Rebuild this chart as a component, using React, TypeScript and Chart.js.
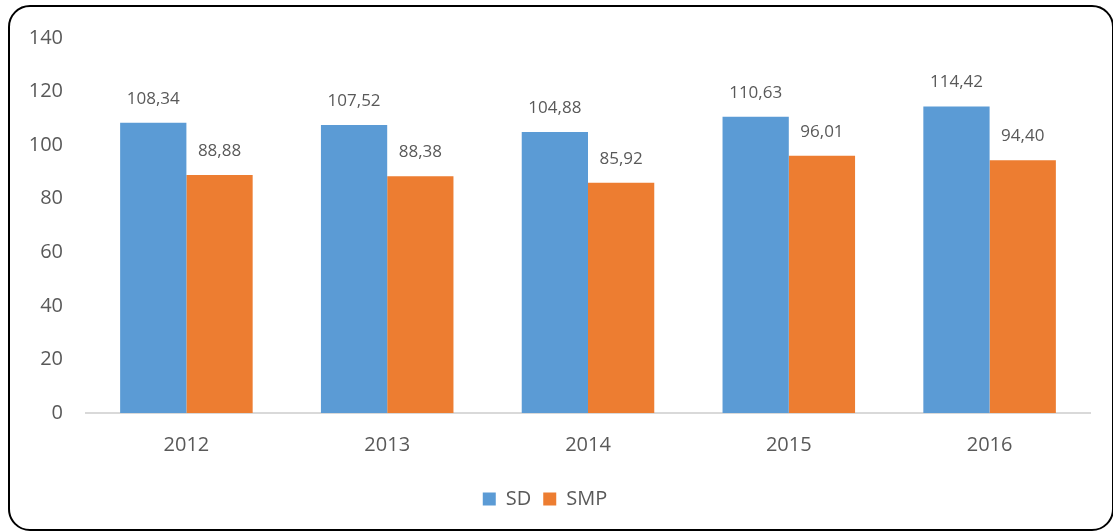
import React, { useEffect, useRef } from "react";
import { Chart, registerables } from "chart.js";

Chart.register(...registerables);

const categories = ["2012", "2013", "2014", "2015", "2016"];
const sdValues = [108.34, 107.52, 104.88, 110.63, 114.42];
const smpValues = [88.88, 88.38, 85.92, 96.01, 94.4];
const seriesNames = ["SD", "SMP"];
const yTicks = [0, 20, 40, 60, 80, 100, 120, 140];

const BLUE = "#5B9BD5";
const ORANGE = "#ED7D31";
const GREY = "#595959";
const FONT = "'Open Sans', sans-serif";

const fmt = (v: number) => v.toFixed(2).replace(".", ",");

const valueLabels = {
  id: "valueLabels",
  afterDatasetsDraw(chart: any) {
    const ctx = chart.ctx;
    ctx.save();
    ctx.font = "17px 'Open Sans', sans-serif";
    ctx.fillStyle = GREY;
    ctx.textAlign = "center";
    ctx.textBaseline = "middle";
    chart.data.datasets.forEach((ds: any, i: number) => {
      const meta = chart.getDatasetMeta(i);
      meta.data.forEach((el: any, j: number) => {
        ctx.fillText(fmt(ds.data[j]), el.x, el.y - 24);
      });
    });
    ctx.restore();
  },
};

export default function App() {
  const ref = useRef<HTMLCanvasElement | null>(null);
  useEffect(() => {
    if (!ref.current) return;
    const chart = new Chart(ref.current, {
      type: "bar",
      data: {
        labels: categories,
        datasets: [
          { label: seriesNames[0], data: sdValues, backgroundColor: BLUE },
          { label: seriesNames[1], data: smpValues, backgroundColor: ORANGE },
        ],
      },
      options: {
        animation: false,
        responsive: false,
        maintainAspectRatio: false,
        layout: { padding: { left: 0, right: 23, top: 38, bottom: 12 } },
        datasets: { bar: { categoryPercentage: 0.66, barPercentage: 1.0 } },
        scales: {
          x: {
            grid: { display: false, drawTicks: false },
            border: { display: true, color: "#D9D9D9", width: 2 },
            ticks: { color: GREY, font: { family: FONT, size: 20 }, padding: 20 },
            afterFit: (s: any) => { s.height = 64; },
          },
          y: {
            min: 0,
            max: 140,
            grid: { display: false, drawTicks: false },
            border: { display: false },
            afterBuildTicks: (s: any) => { s.ticks = yTicks.map((v) => ({ value: v })); },
            ticks: { color: GREY, font: { family: FONT, size: 20 }, padding: 23, stepSize: 20 },
            afterFit: (s: any) => { s.width = 86; },
          },
        },
        plugins: {
          legend: {
            position: "bottom",
            labels: {
              color: GREY,
              font: { family: FONT, size: 20 },
              boxWidth: 13,
              boxHeight: 13,
              padding: 12,
            },
          },
          tooltip: { enabled: false },
          title: { display: false },
        },
      },
      plugins: [valueLabels],
    });
    return () => chart.destroy();
  }, []);

  return (
    <div style={{ position: "absolute", left: 0, top: 0, width: 1113, height: 531, overflow: "hidden", background: "#fff" }}>
      <canvas ref={ref} width={1113} height={531} style={{ position: "absolute", left: 0, top: 0 }} />
      <div
        style={{
          position: "absolute",
          left: 8,
          top: 5,
          width: 1106,
          height: 526,
          boxSizing: "border-box",
          border: "2px solid #000",
          borderRadius: 22,
          pointerEvents: "none",
        }}
      />
    </div>
  );
}
